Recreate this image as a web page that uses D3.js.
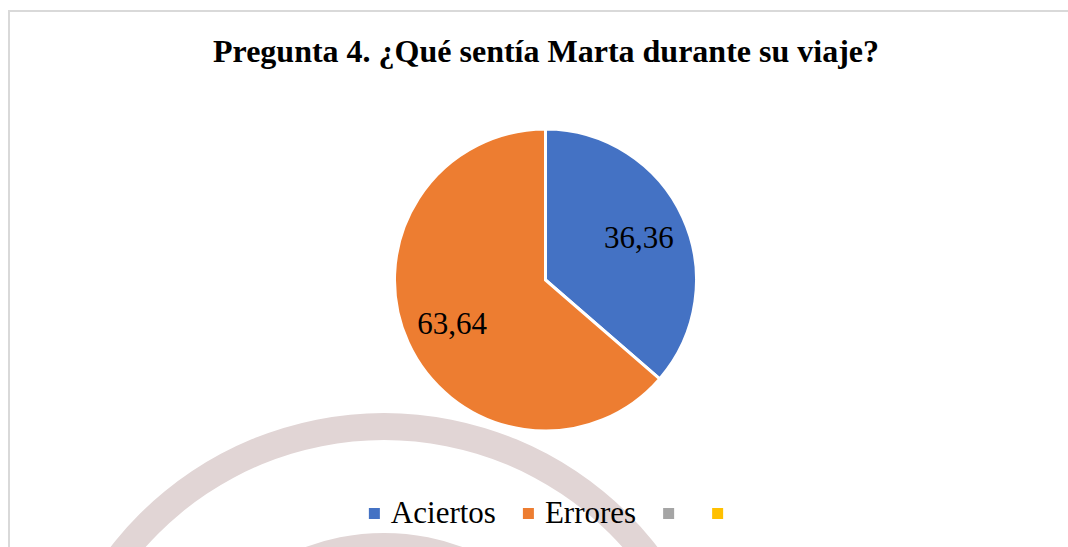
<!DOCTYPE html>
<html>
<head>
<meta charset="utf-8">
<script src="https://cdn.jsdelivr.net/npm/d3@7"></script>
<style>
  html, body { margin: 0; padding: 0; background: #fff; }
  svg { display: block; }
  text { font-family: "Liberation Serif", "Times New Roman", serif; }
</style>
</head>
<body>
<svg id="chart"></svg>
<script>
const title = "Pregunta 4. ¿Qué sentía Marta durante su viaje?";
const categories = ["Aciertos", "Errores", "", ""];
const values = [36.36, 63.64, 0, 0];
const colors = ["#4472C4", "#ED7D31", "#A5A5A5", "#FFC000"];

const width = 1068;
const height = 547;
const cx = 545.5, cy = 280, radius = 151;

const svg = d3.select("#chart")
      .attr("width", width)
      .attr("height", height)
      .attr("viewBox", [0, 0, width, height]);

// faint watermark arcs behind the chart
const mark = svg.append("g").attr("transform", "translate(384,759)");
mark.append("path")
    .attr("fill", "#e1d5d5")
    .attr("d", d3.arc()({innerRadius: 319, outerRadius: 346, startAngle: -Math.PI / 2, endAngle: Math.PI / 2}));
mark.append("path")
    .attr("fill", "#e1d5d5")
    .attr("d", d3.arc()({innerRadius: 200, outerRadius: 226, startAngle: -Math.PI / 2, endAngle: Math.PI / 2}));

// chart area border
svg.append("rect")
    .attr("x", 9).attr("y", 11)
    .attr("width", width + 20).attr("height", height + 20)
    .attr("fill", "none")
    .attr("stroke", "#d9d9d9")
    .attr("stroke-width", 2);

svg.append("text")
    .attr("x", 546)
    .attr("y", 62)
    .attr("text-anchor", "middle")
    .style("font-weight", "bold")
    .style("font-size", "32px")
    .attr("fill", "#000")
    .text(title);

const data = categories.map((c, i) => ({name: c, value: values[i], color: colors[i]}));
const pie = d3.pie().sort(null).value(d => d.value);
const arcs = pie(data);
const arc = d3.arc().innerRadius(0).outerRadius(radius);
const labelArc = d3.arc().innerRadius(radius * 0.68).outerRadius(radius * 0.68);
const fmt = d3.formatLocale({decimal: ",", thousands: ".", grouping: [3], currency: ["", ""]}).format(".2f");

const g = svg.append("g").attr("transform", `translate(${cx},${cy})`);
g.selectAll("path")
  .data(arcs.filter(d => d.data.value > 0))
  .join("path")
    .attr("d", arc)
    .attr("fill", d => d.data.color)
    .attr("stroke", "#fff")
    .attr("stroke-width", 3)
    .attr("stroke-linejoin", "miter");

g.selectAll("text")
  .data(arcs.filter(d => d.data.value > 0))
  .join("text")
    .attr("transform", d => `translate(${labelArc.centroid(d)})`)
    .attr("text-anchor", "middle")
    .attr("dy", "0.35em")
    .style("font-size", "31px")
    .attr("fill", "#000")
    .text(d => fmt(d.data.value));

// legend, laid out from measured text widths and centred
const legend = svg.append("g");
const items = legend.selectAll("g")
  .data(data)
  .join("g");
items.append("rect")
    .attr("width", 11).attr("height", 11)
    .attr("y", -15)
    .attr("fill", d => d.color);
items.append("text")
    .attr("x", 22)
    .style("font-size", "31px")
    .attr("fill", "#000")
    .text(d => d.name);
let xPos = 0;
items.each(function () {
  const t = d3.select(this).select("text").node().getComputedTextLength();
  d3.select(this).attr("transform", `translate(${xPos},0)`);
  xPos += Math.max(22 + t + 27, 46);
});
const total = xPos - 35;
legend.attr("transform", `translate(${547.5 - total / 2},523)`);
</script>
</body>
</html>
